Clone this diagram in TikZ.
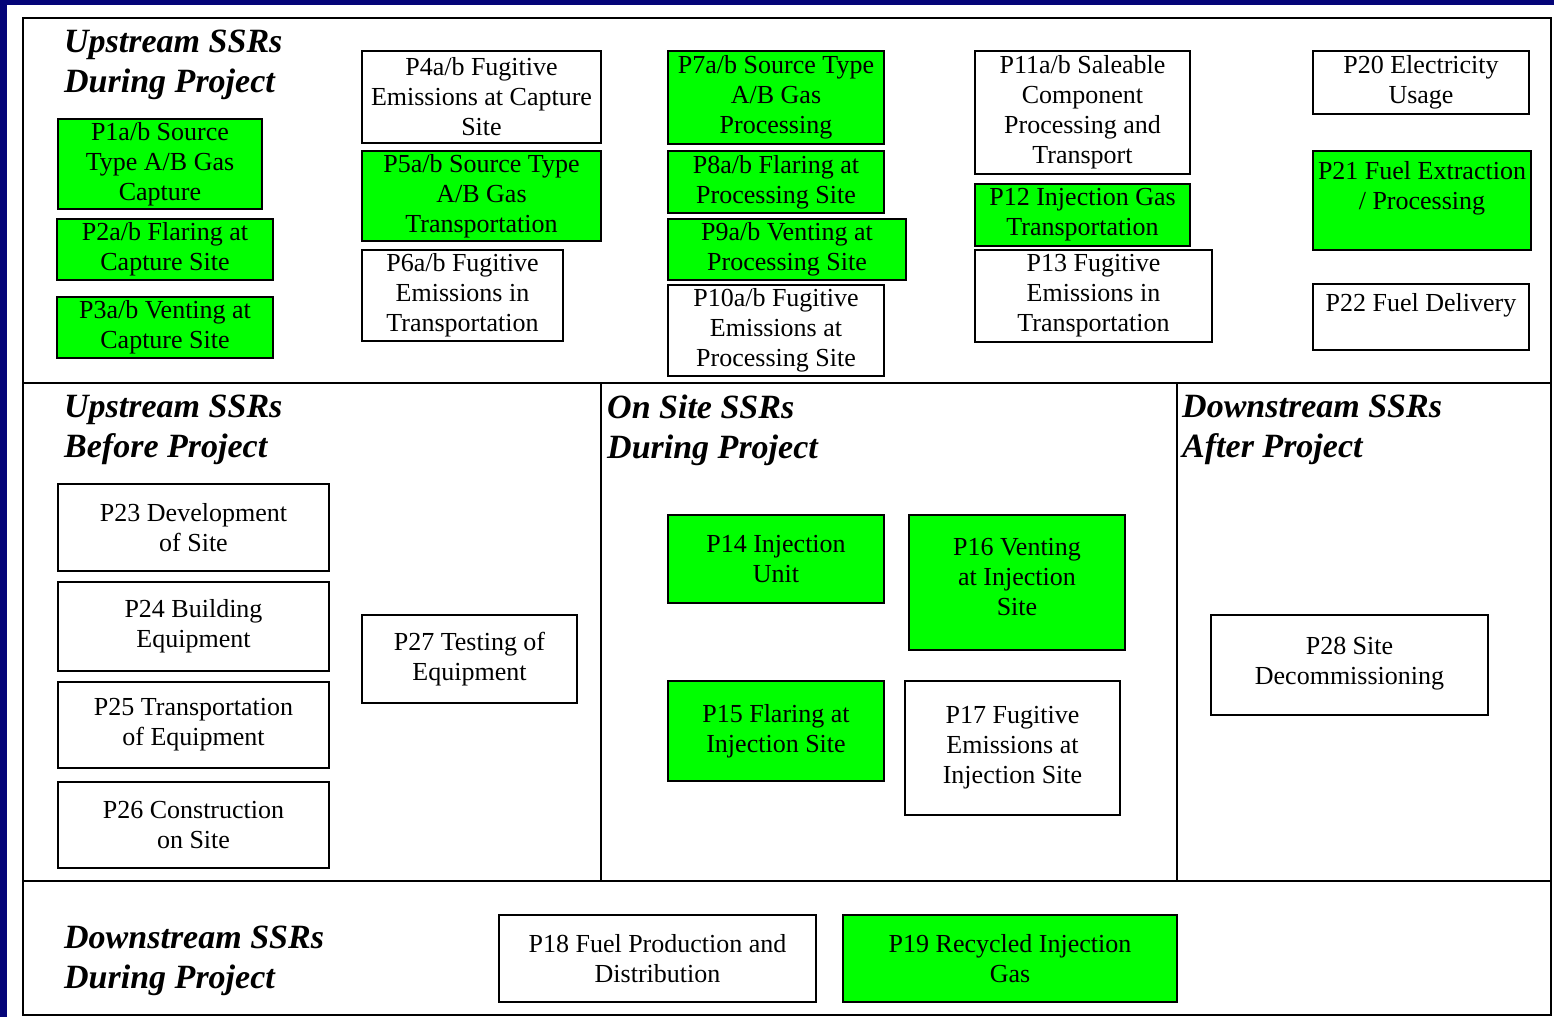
\documentclass[tikz,border=0pt]{standalone}
\usepackage{fontspec}
\setmainfont{Liberation Serif}
\definecolor{slidenavy}{RGB}{4,4,120}
\definecolor{ssrgreen}{RGB}{0,255,0}
\begin{document}
\begin{tikzpicture}[x=1pt, y=-1pt,
	ssrbox/.style={draw, line width=1.5pt, align=center, inner sep=0pt, font=\fontsize{26}{30}\selectfont},
	greenbox/.style={ssrbox, fill=ssrgreen},
	heading/.style={anchor=west, align=left, inner sep=0pt, font=\fontsize{34}{40}\selectfont\bfseries\itshape}]
	\useasboundingbox (0,0) rectangle (1554,1017);
	\fill[slidenavy] (0,0) rectangle (1554,1017);
	\fill[white] (7,5) rectangle (1554,1017);
	% frame and bands
	\draw[line width=1.6pt] (23,18) rectangle (1551,1015);
	\draw[line width=1.6pt] (23,383) -- (1551,383);
	\draw[line width=1.6pt] (23,881) -- (1551,881);
	\draw[line width=1.6pt] (601,383) -- (601,881);
	\draw[line width=1.6pt] (1177,383) -- (1177,881);
	% headings
	\node[heading] (updur) at (64,65) {Upstream SSRs\\During Project};
	\node[heading] (upbef) at (64,430) {Upstream SSRs\\Before Project};
	\node[heading] (ondur) at (607,430) {On Site SSRs\\During Project};
	\node[heading] (dnaft) at (1182,430) {Downstream SSRs\\After Project};
	\node[heading] (dndur) at (64,961) {Downstream SSRs\\During Project};
	% upstream during project
	\node[greenbox, minimum width=204pt, minimum height=90pt] (p1) at (160,164) {P1a/b Source\\Type A/B Gas\\Capture};
	\node[greenbox, minimum width=216pt, minimum height=61pt] (p2) at (165,249.5) {P2a/b Flaring at\\Capture Site};
	\node[greenbox, minimum width=216pt, minimum height=61pt] (p3) at (165,327.5) {P3a/b Venting at\\Capture Site};
	\node[ssrbox, minimum width=239pt, minimum height=92pt] (p4) at (481.5,97) {P4a/b Fugitive\\Emissions at Capture\\Site};
	\node[greenbox, minimum width=239pt, minimum height=90pt] (p5) at (481.5,196) {P5a/b Source Type\\A/B Gas\\Transportation};
	\node[ssrbox, minimum width=201pt, minimum height=91pt] (p6) at (462.5,295.5) {P6a/b Fugitive\\Emissions in\\Transportation};
	\node[greenbox, minimum width=216pt, minimum height=93pt] (p7) at (776,97.5) {P7a/b Source Type\\A/B Gas\\Processing};
	\node[greenbox, minimum width=216pt, minimum height=62pt] (p8) at (776,182) {P8a/b Flaring at\\Processing Site};
	\node[greenbox, minimum width=238pt, minimum height=61pt] (p9) at (787,249.5) {P9a/b Venting at\\Processing Site};
	\node[ssrbox, minimum width=216pt, minimum height=91pt] (p10) at (776,330.5) {P10a/b Fugitive\\Emissions at\\Processing Site};
	\node[ssrbox, minimum width=215pt, minimum height=123pt] (p11) at (1082.5,112.5) {P11a/b Saleable\\Component\\Processing and\\Transport};
	\node[greenbox, minimum width=215pt, minimum height=62pt] (p12) at (1082.5,215) {P12 Injection Gas\\Transportation};
	\node[ssrbox, minimum width=237pt, minimum height=92pt] (p13) at (1093.5,296) {P13 Fugitive\\Emissions in\\Transportation};
	\node[ssrbox, minimum width=216pt, minimum height=63pt] (p20) at (1421,82.5) {P20 Electricity\\Usage};
	\node[greenbox, minimum width=218pt, minimum height=99pt] (p21) at (1422,200.5) {P21 Fuel Extraction\\/ Processing\\\mbox{}};
	\node[ssrbox, minimum width=216pt, minimum height=66pt] (p22) at (1421,317) {P22 Fuel Delivery\\\mbox{}};
	% upstream before project
	\node[ssrbox, minimum width=271pt, minimum height=87pt] (p23) at (193.5,527.5) {P23 Development\\of Site};
	\node[ssrbox, minimum width=271pt, minimum height=89pt] (p24) at (193.5,626.5) {P24 Building\\Equipment};
	\node[ssrbox, minimum width=271pt, minimum height=86pt] (p25) at (193.5,725) {P25 Transportation\\of Equipment};
	\node[ssrbox, minimum width=271pt, minimum height=86pt] (p26) at (193.5,825) {P26 Construction\\on Site};
	\node[ssrbox, minimum width=215pt, minimum height=88pt] (p27) at (469.5,659) {P27 Testing of\\Equipment};
	% on site during project
	\node[greenbox, minimum width=216pt, minimum height=88pt] (p14) at (776,559) {P14 Injection\\Unit};
	\node[greenbox, minimum width=216pt, minimum height=135pt] (p16) at (1017,582.5) {P16 Venting\\at Injection\\Site\\[-18pt]\mbox{}};
	\node[greenbox, minimum width=216pt, minimum height=100pt] (p15) at (776,731) {P15 Flaring at\\Injection Site};
	\node[ssrbox, minimum width=215pt, minimum height=134pt] (p17) at (1012.5,748) {P17 Fugitive\\Emissions at\\Injection Site};
	% downstream after project
	\node[ssrbox, minimum width=277pt, minimum height=100pt] (p28) at (1349.5,665) {P28 Site\\Decommissioning\\[-22pt]\mbox{}};
	% downstream during project
	\node[ssrbox, minimum width=317pt, minimum height=87pt] (p18) at (657.5,958.5) {P18 Fuel Production and\\Distribution};
	\node[greenbox, minimum width=334pt, minimum height=87pt] (p19) at (1010,958.5) {P19 Recycled Injection\\Gas};
\end{tikzpicture}
\end{document}
